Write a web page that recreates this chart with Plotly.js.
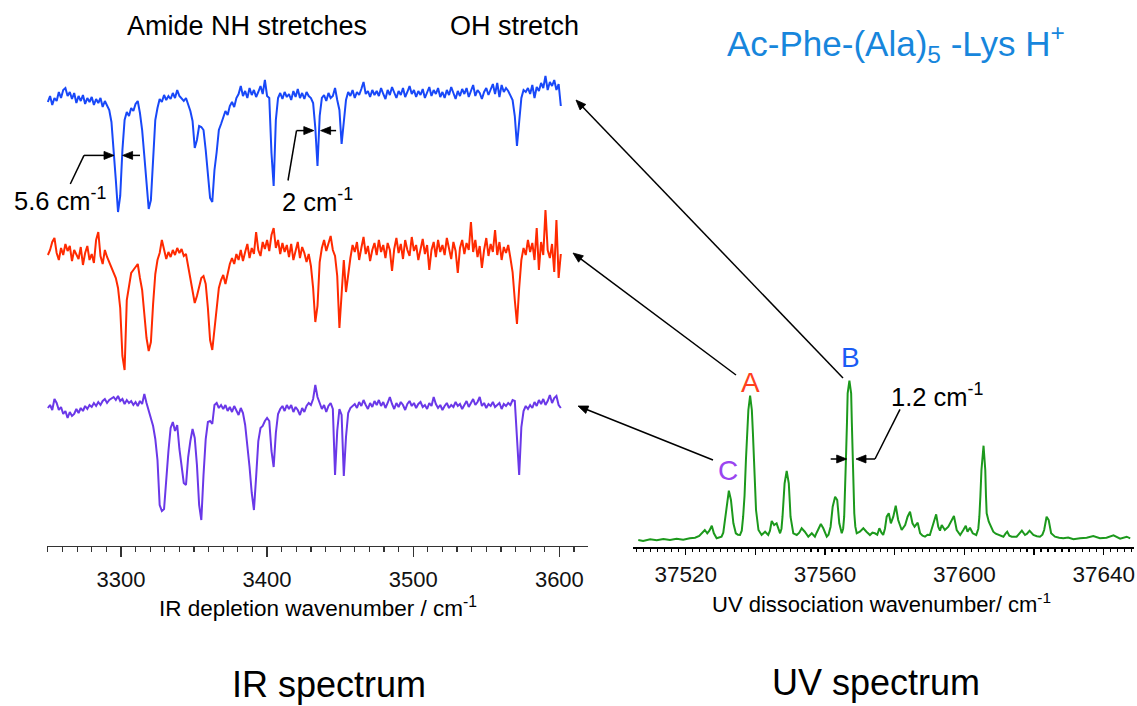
<!DOCTYPE html>
<html>
<head>
<meta charset="utf-8">
<script src="https://cdn.plot.ly/plotly-3.0.1.min.js"></script>
<style>
  html, body { margin: 0; padding: 0; background: #ffffff; }
  #chart { width: 1137px; height: 706px; }
</style>
</head>
<body>
<div id="chart"></div>
<script>
// ---------------------------------------------------------------
// IR depletion spectra, sampled every 1.5 cm-1 starting at 3250 cm-1
// (signal in arbitrary units, baseline ~150)
// ---------------------------------------------------------------
const irStart = 3250;
const irStep = 1.5;

// conformer B (blue)
const irConformerB = [
  146, 152, 143, 150, 147, 156, 150, 158, 160, 152,
  156, 149, 155, 145, 152, 147, 153, 144, 150, 146,
  151, 143, 149, 145, 150, 141, 147, 143, 138, 126,
  100, 68, 36, 52, 98, 128, 136, 132, 140, 137,
  144, 147, 135, 118, 92, 64, 39, 48, 96, 128,
  140, 149, 146, 153, 148, 152, 149, 155, 150, 158,
  152, 149, 147, 150, 143, 137, 127, 100, 108, 122,
  121, 118, 98, 72, 50, 46, 78, 96, 118, 124,
  130, 137, 133, 142, 146, 141, 150, 154, 162, 152,
  157, 150, 160, 153, 158, 151, 156, 162, 154, 168,
  152, 150, 95, 62, 128, 150, 155, 149, 156, 151,
  154, 148, 157, 151, 159, 150, 155, 149, 156, 152,
  150, 145, 120, 82, 132, 150, 153, 147, 155, 150,
  152, 160, 148, 138, 104, 124, 148, 156, 152, 158,
  150, 156, 153, 159, 166, 154, 157, 151, 158, 153,
  157, 152, 160, 154, 149, 158, 153, 161, 155, 150,
  157, 153, 160, 151, 156, 162, 154, 158, 151, 157,
  153, 159, 150, 156, 161, 152, 158, 154, 160, 151,
  156, 150, 158, 153, 161, 155, 149, 157, 152, 159,
  154, 160, 151, 157, 163, 152, 158, 155, 149, 156,
  160, 153, 158, 164, 154, 165, 151, 163, 156, 160,
  157, 152, 148, 132, 102, 126, 150, 158, 156, 160,
  154, 163, 150, 161, 157, 165, 160, 172, 158, 166,
  162, 168, 158, 164, 142
];

// conformer A (red)
const irConformerA = [
  145, 150, 158, 162, 147, 140, 152, 145, 156, 149,
  154, 139, 150, 145, 141, 153, 135, 147, 154, 140,
  146, 137, 160, 168, 144, 136, 150, 143, 138, 132,
  128, 122, 112, 92, 44, 30, 100, 112, 127, 130,
  133, 136, 122, 110, 86, 62, 49, 58, 96, 126,
  140, 147, 160, 150, 141, 148, 143, 150, 145, 152,
  147, 151, 144, 146, 134, 122, 108, 97, 104, 114,
  122, 124, 116, 92, 60, 50, 70, 92, 112, 120,
  125, 116, 128, 136, 142, 136, 146, 140, 150, 139,
  148, 156, 142, 152, 146, 168, 150, 144, 158, 151,
  160, 149, 165, 172, 152, 160, 146, 157, 148, 155,
  143, 156, 140, 150, 158, 142, 153, 147, 138, 146,
  134, 112, 78, 94, 138, 152, 160, 149, 156, 164,
  150, 144, 124, 72, 106, 140, 108, 128, 142, 155,
  148, 158, 140, 152, 163, 146, 154, 139, 150, 157,
  145, 160, 148, 155, 142, 157, 150, 129, 151, 162,
  147, 156, 141, 160, 150, 144, 163, 149, 155, 140,
  152, 161, 146, 155, 130, 150, 158, 143, 160, 148,
  155, 145, 162, 150, 141, 158, 149, 127, 152, 160,
  146, 157, 150, 178, 148, 160, 143, 154, 132, 150,
  162, 144, 156, 148, 170, 145, 158, 140, 153, 147,
  155, 142, 128, 100, 76, 112, 140, 152, 145, 160,
  148, 157, 140, 172, 130, 158, 145, 190, 150, 142,
  156, 128, 180, 122, 146
];

// conformer C (purple)
const irConformerC = [
  147, 150, 145, 156, 152, 145, 148, 141, 144, 137,
  143, 139, 141, 146, 142, 147, 144, 149, 146, 150,
  148, 152, 149, 153, 150, 154, 156, 152, 155, 157,
  158, 155, 159, 154, 156, 151, 155, 152, 154, 150,
  153, 149, 154, 151, 161, 152, 145, 138, 129, 116,
  95, 50, 44, 46, 78, 104, 127, 133, 124, 130,
  106, 88, 72, 70, 98, 114, 126, 117, 90, 50,
  35, 80, 116, 133, 134, 131, 150, 152, 147, 150,
  146, 150, 144, 148, 143, 149, 145, 140, 147, 142,
  130, 112, 88, 62, 45, 78, 114, 127, 129, 134,
  137, 134, 104, 88, 122, 141, 146, 149, 144, 150,
  146, 150, 143, 148, 145, 140, 147, 143, 149, 152,
  150, 156, 170, 158, 151, 146, 150, 143, 149, 152,
  146, 80, 124, 146, 140, 79, 118, 142, 147, 149,
  151, 147, 153, 149, 155, 150, 146, 152, 148, 154,
  150, 155, 149, 153, 147, 152, 158, 151, 146, 152,
  148, 153, 150, 145, 151, 154, 149, 152, 147, 151,
  153, 148, 150, 146, 152, 149, 158, 151, 147, 150,
  145, 149, 152, 147, 150, 148, 153, 149, 151, 146,
  150, 154, 148, 152, 156, 150, 153, 158, 149, 152,
  147, 151, 149, 153, 148, 150, 152, 146, 151, 149,
  152, 150, 155, 154, 120, 80, 128, 144, 149, 146,
  150, 147, 153, 149, 155, 151, 156, 150, 154, 160,
  152, 157, 159, 150, 147
];

// ---------------------------------------------------------------
// UV photodissociation spectrum
// ---------------------------------------------------------------
const uvWavenumber = [
  37506.4, 37507.8, 37509.8, 37511.7, 37513.6, 37515.5, 37517.4, 37519.3, 37521.2, 37522.7,
  37523.9, 37524.9, 37525.5, 37526.2, 37526.8, 37527.5, 37528.1, 37528.9, 37529.6, 37530.3,
  37530.8, 37531.3, 37531.9, 37532.4, 37533.0, 37533.7, 37534.4, 37535.0, 37535.6, 37536.1,
  37536.5, 37536.9, 37537.3, 37537.7, 37538.0, 37538.5, 37539.0, 37539.3, 37539.6, 37539.9,
  37540.2, 37540.9, 37541.8, 37542.8, 37543.7, 37544.2, 37544.7, 37545.4, 37546.1, 37547.1,
  37547.5, 37547.8, 37548.1, 37548.4, 37549.0, 37549.6, 37549.9, 37550.1, 37550.9, 37551.9,
  37552.6, 37553.3, 37554.2, 37555.2, 37556.2, 37557.1, 37557.6, 37558.1, 37558.8, 37559.5,
  37560.5, 37561.0, 37561.6, 37562.2, 37562.9, 37563.5, 37563.8, 37564.1, 37564.8, 37565.2,
  37565.5, 37565.8, 37566.0, 37566.3, 37566.5, 37567.0, 37567.5, 37567.7, 37567.9, 37568.2,
  37568.4, 37568.7, 37569.1, 37570.0, 37571.0, 37571.9, 37572.9, 37573.6, 37574.3, 37575.0,
  37575.6, 37576.2, 37576.7, 37577.2, 37577.7, 37578.3, 37578.9, 37579.6, 37580.3, 37581.0,
  37582.0, 37583.0, 37583.7, 37584.4, 37585.1, 37585.7, 37586.6, 37587.3, 37588.0, 37588.7,
  37589.4, 37590.1, 37591.1, 37591.9, 37592.5, 37593.0, 37593.5, 37594.4, 37595.4, 37596.3,
  37597.0, 37597.8, 37598.8, 37599.7, 37600.4, 37600.9, 37601.6, 37602.4, 37603.4, 37604.0,
  37604.3, 37604.6, 37604.9, 37605.5, 37606.0, 37606.2, 37606.4, 37607.0, 37607.6, 37608.3,
  37609.0, 37609.8, 37611.2, 37611.8, 37612.3, 37612.9, 37613.6, 37615.0, 37615.8, 37616.5,
  37617.4, 37618.0, 37618.7, 37619.8, 37620.8, 37621.7, 37622.4, 37622.9, 37623.6, 37624.2,
  37624.9, 37626.0, 37627.2, 37628.4, 37629.8, 37631.3, 37633.2, 37635.1, 37637.0, 37638.9,
  37640.8, 37642.8, 37644.7, 37646.6, 37647.6
];
const uvSignal = [
  0.7, -0.3, 1.4, 0.4, 1.7, 0.7, 2.0, 1.0, 2.4, 3.0,
  4.7, 9.0, 10.7, 7.4, 10.0, 15.0, 7.4, 2.4, 3.5, 4.0,
  8.0, 20.7, 40.7, 50.0, 40.7, 17.4, 7.4, 6.0, 5.7, 10.0,
  24.0, 45.0, 80.7, 112.0, 130.7, 145.0, 130.7, 108.0, 80.7, 52.0,
  30.7, 10.7, 5.7, 9.0, 5.7, 10.0, 19.7, 15.7, 17.4, 7.4,
  12.0, 24.0, 40.0, 57.4, 69.7, 57.4, 38.0, 24.0, 7.4, 5.7,
  8.0, 12.4, 9.0, 4.0, 7.4, 4.0, 8.0, 12.4, 16.7, 12.4,
  4.0, 6.0, 14.0, 34.0, 44.0, 40.7, 28.0, 17.4, 7.4, 12.0,
  24.0, 50.0, 80.7, 118.0, 147.4, 160.0, 147.4, 118.0, 87.4, 52.0,
  27.4, 14.0, 7.4, 9.0, 12.4, 9.0, 5.7, 8.0, 7.4, 6.0,
  12.4, 8.0, 5.7, 12.0, 24.0, 27.4, 17.4, 24.0, 35.0, 20.7,
  10.7, 15.7, 24.0, 29.0, 17.4, 14.0, 18.0, 7.4, 5.0, 4.0,
  6.0, 5.7, 17.4, 26.4, 14.0, 10.0, 15.7, 10.7, 14.0, 20.7,
  24.7, 10.7, 5.7, 10.7, 15.0, 9.0, 13.0, 7.4, 5.7, 12.0,
  24.0, 45.0, 70.7, 95.0, 70.7, 45.0, 27.4, 19.0, 14.0, 9.0,
  7.0, 5.7, 4.0, 7.0, 9.0, 5.0, 4.0, 4.0, 7.0, 10.0,
  5.7, 7.0, 10.0, 5.7, 4.5, 4.0, 6.0, 10.7, 24.0, 20.7,
  7.4, 4.0, 3.0, 2.4, 3.2, 1.4, 2.5, 3.0, 4.7, 2.4,
  3.0, 5.4, 2.0, 4.0, 2.4
];

// UV axis ticks every 20 cm-1, labelled every 40 cm-1
const uvTickValues = [37520, 37540, 37560, 37580, 37600, 37620, 37640];
const uvTickLabels = ['37520', '', '37560', '', '37600', '', '37640'];

// ---------------------------------------------------------------
// Page geometry helpers (pixel -> paper fraction)
// ---------------------------------------------------------------
const W = 1137, H = 706;
const fx = p => p / W;
const fy = p => 1 - p / H;
const FONT = 'Liberation Sans, Arial, Helvetica, sans-serif';

const irWavenumber = irConformerB.map((_, i) => irStart + i * irStep);

// Each IR trace sits in its own strip: 1 signal unit = 1 px, range 0..200
function irStrip(baselinePx) {
  return {
    domain: [fy(baselinePx + 150), fy(baselinePx - 50)],
    range: [0, 200],
    visible: false,
    fixedrange: true,
    anchor: 'x'
  };
}

const traces = [
  { x: irWavenumber, y: irConformerB, xaxis: 'x', yaxis: 'y', type: 'scatter', mode: 'lines',
    line: { color: '#1848f8', width: 2 }, name: 'B' },
  { x: irWavenumber, y: irConformerA, xaxis: 'x', yaxis: 'y2', type: 'scatter', mode: 'lines',
    line: { color: '#ff2a00', width: 2 }, name: 'A' },
  { x: irWavenumber, y: irConformerC, xaxis: 'x', yaxis: 'y3', type: 'scatter', mode: 'lines',
    line: { color: '#6a38e8', width: 2 }, name: 'C' },
  { x: uvWavenumber, y: uvSignal, xaxis: 'x2', yaxis: 'y4', type: 'scatter', mode: 'lines',
    line: { color: '#1c991c', width: 2 }, name: 'UV' }
];

function label(text, x, y, size, color, xanchor) {
  return {
    xref: 'paper', yref: 'paper', x: fx(x), y: fy(y), text: text, showarrow: false,
    xanchor: xanchor || 'left', yanchor: 'middle',
    font: { family: FONT, size: size, color: color || '#000' }
  };
}
function leader(x0, y0, x1, y1) {
  return {
    type: 'line', xref: 'paper', yref: 'paper',
    x0: fx(x0), y0: fy(y0), x1: fx(x1), y1: fy(y1),
    line: { color: '#000', width: 1.5 }
  };
}
// straight arrow from tail (tx,ty) to head (hx,hy), pixels; filled triangular head
function arrow(hx, hy, tx, ty) {
  const len = 10, half = 4;
  const dx = hx - tx, dy = hy - ty, L = Math.hypot(dx, dy);
  const ux = dx / L, uy = dy / L;
  const bx = hx - ux * len, by = hy - uy * len;
  const p1x = bx - uy * half, p1y = by + ux * half;
  const p2x = bx + uy * half, p2y = by - ux * half;
  const path = 'M ' + fx(hx) + ',' + fy(hy) +
               ' L ' + fx(p1x) + ',' + fy(p1y) +
               ' L ' + fx(p2x) + ',' + fy(p2y) + ' Z';
  return [
    leader(tx, ty, bx + ux * 2, by + uy * 2),
    { type: 'path', xref: 'paper', yref: 'paper', path: path,
      fillcolor: '#000', line: { color: '#000', width: 0.8 } }
  ];
}

const annotations = [
  label('Amide NH stretches', 125, 26, 27),
  label('OH stretch', 448, 26, 27),
  label('Ac-Phe-(Ala)<sub>5</sub> -Lys H<sup>+</sup>', 725, 43, 35, '#1786dc'),

  label('5.6 cm<sup>-1</sup>', 12, 199, 25.5),
  label('2 cm<sup>-1</sup>', 280, 200, 25.5),
  label('1.2 cm<sup>-1</sup>', 889, 395, 25.5),

  label('A', 750, 382, 28, '#ff4020', 'center'),
  label('B', 850, 357, 28, '#1a5cf5', 'center'),
  label('C', 728, 471, 28, '#9a45f0', 'center'),

  label('IR depletion wavenumber / cm<sup>-1</sup>', 318, 607, 22.5, '#000', 'center'),
  label('UV dissociation wavenumber/ cm<sup>-1</sup>', 882, 603, 22, '#000', 'center'),

  label('IR spectrum', 329, 684, 36, '#000', 'center'),
  label('UV spectrum', 876, 682, 36, '#000', 'center')
];

const shapes = [
  // UV band -> IR spectrum recorded on it
  ...arrow(576, 100, 843, 378),
  ...arrow(573, 253, 736, 375),
  ...arrow(578, 406, 713, 460),

  // linewidth markers
  leader(84, 155.4, 70.3, 184),
  ...arrow(114, 155.4, 84, 155.4),
  ...arrow(122.6, 155.4, 140, 155.4),
  leader(296.5, 130.6, 288, 180.5),
  ...arrow(313.8, 130.6, 296.5, 130.6),
  ...arrow(320.6, 130.6, 336.1, 130.6),
  ...arrow(846.7, 459, 830.7, 459),
  ...arrow(856, 459, 875, 459),
  leader(875, 459, 900, 409.3)
];

const layout = {
  width: W, height: H,
  margin: { l: 0, r: 0, t: 0, b: 0, pad: 0 },
  paper_bgcolor: '#ffffff',
  plot_bgcolor: 'rgba(0,0,0,0)',
  showlegend: false,
  font: { family: FONT, color: '#000' },
  xaxis: {
    domain: [fx(47), fx(588)],
    range: [3249.4, 3619.6],
    anchor: 'free', position: fy(546),
    showline: true, linecolor: '#333', linewidth: 1.3,
    ticks: 'outside', ticklen: 10, tickwidth: 1.3, tickcolor: '#333',
    tick0: 0, dtick: 100,
    minor: { ticks: 'outside', tick0: 0, dtick: 10, ticklen: 5, tickwidth: 1.2, tickcolor: '#333' },
    showgrid: false, zeroline: false, fixedrange: true,
    tickfont: { family: FONT, size: 22, color: '#111' },
    ticklabelstandoff: 3
  },
  yaxis: irStrip(98),
  yaxis2: irStrip(250),
  yaxis3: irStrip(405),
  xaxis2: {
    domain: [fx(632.7), fx(1133.7)],
    range: [37504.8, 37648.6],
    anchor: 'free', position: fy(547.7),
    showline: true, linecolor: '#000', linewidth: 2,
    ticks: 'outside', ticklen: 6.5, tickwidth: 1.5, tickcolor: '#000',
    tickmode: 'array', tickvals: uvTickValues, ticktext: uvTickLabels,
    minor: { ticks: 'outside', tickmode: 'linear', tick0: 37500, dtick: 2, ticklen: 3.5, tickwidth: 1.2, tickcolor: '#000' },
    showgrid: false, zeroline: false, fixedrange: true,
    tickfont: { family: FONT, size: 22.5, color: '#111' },
    ticklabelstandoff: 0
  },
  yaxis4: {
    domain: [fy(547.7), fy(365.7)],
    range: [-7, 175],
    visible: false, fixedrange: true, anchor: 'x2'
  },
  annotations: annotations,
  shapes: shapes
};

Plotly.newPlot('chart', traces, layout, { staticPlot: true, displayModeBar: false });
</script>
</body>
</html>
